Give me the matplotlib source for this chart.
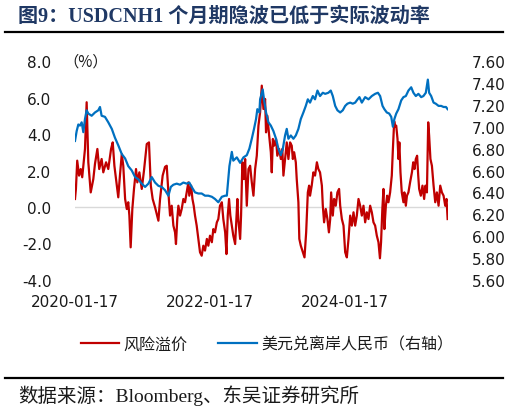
import pandas as pd
import numpy as np
import matplotlib
import matplotlib.pyplot as plt
import matplotlib.dates as mdates
from matplotlib.lines import Line2D
matplotlib.use('Agg')

plt.rcParams['font.family'] = ['DejaVu Sans', 'Noto Sans CJK SC']
plt.rcParams['axes.unicode_minus'] = False

# 风险溢价 (%), left axis
risk_dates = [
    '2020-01-17', '2020-01-22', '2020-01-29', '2020-02-08', '2020-02-17', '2020-02-25',
    '2020-03-06', '2020-03-11', '2020-03-20', '2020-03-29', '2020-04-11', '2020-04-25',
    '2020-05-04', '2020-05-17', '2020-05-27', '2020-06-09', '2020-06-18', '2020-07-03',
    '2020-07-15', '2020-07-30', '2020-08-08', '2020-08-17', '2020-08-30', '2020-09-07',
    '2020-09-16', '2020-09-26', '2020-10-04', '2020-10-14', '2020-10-23', '2020-10-31',
    '2020-11-06', '2020-11-13', '2020-11-22', '2020-12-01', '2020-12-12', '2020-12-19',
    '2020-12-30', '2021-01-12', '2021-01-24', '2021-02-08', '2021-02-20', '2021-03-02',
    '2021-03-12', '2021-03-25', '2021-04-12', '2021-04-21', '2021-05-05', '2021-05-18',
    '2021-05-27', '2021-06-05', '2021-06-14', '2021-06-23', '2021-07-02', '2021-07-11',
    '2021-07-16', '2021-07-23', '2021-07-29', '2021-08-07', '2021-08-16', '2021-08-25',
    '2021-09-03', '2021-09-12', '2021-09-21', '2021-09-26', '2021-10-06', '2021-10-13',
    '2021-10-20', '2021-10-27', '2021-11-05', '2021-11-14', '2021-11-23', '2021-12-02',
    '2021-12-11', '2021-12-20', '2021-12-30', '2022-01-07', '2022-01-16', '2022-01-26',
    '2022-02-03', '2022-02-12', '2022-02-22', '2022-03-02', '2022-03-11', '2022-03-21',
    '2022-03-29', '2022-04-08', '2022-04-15', '2022-04-22', '2022-04-29', '2022-05-06',
    '2022-05-14', '2022-05-22', '2022-06-01', '2022-06-06', '2022-06-13', '2022-06-18',
    '2022-06-28', '2022-07-03', '2022-07-10', '2022-07-18', '2022-07-25', '2022-08-03',
    '2022-08-12', '2022-08-21', '2022-08-30', '2022-09-08', '2022-09-17', '2022-09-26',
    '2022-10-05', '2022-10-14', '2022-10-23', '2022-11-01', '2022-11-10', '2022-11-15',
    '2022-11-22', '2022-12-02', '2022-12-11', '2022-12-16', '2022-12-22', '2022-12-29',
    '2023-01-08', '2023-01-15', '2023-01-25', '2023-02-03', '2023-02-11', '2023-02-17',
    '2023-02-26', '2023-03-07', '2023-03-16', '2023-03-25', '2023-04-03', '2023-04-09',
    '2023-04-16', '2023-04-25', '2023-04-30', '2023-05-09', '2023-05-14', '2023-05-22',
    '2023-06-02', '2023-06-11', '2023-06-20', '2023-06-29', '2023-07-06', '2023-07-11',
    '2023-07-20', '2023-07-29', '2023-08-07', '2023-08-17', '2023-08-25', '2023-09-03',
    '2023-09-13', '2023-09-18', '2023-09-25', '2023-10-04', '2023-10-13', '2023-10-21',
    '2023-10-28', '2023-11-02', '2023-11-11', '2023-11-18', '2023-11-27', '2023-12-06',
    '2023-12-15', '2023-12-21', '2023-12-30', '2024-01-08', '2024-01-17', '2024-01-26',
    '2024-02-04', '2024-02-13', '2024-02-22', '2024-03-02', '2024-03-11', '2024-03-20',
    '2024-03-29', '2024-04-07', '2024-04-16', '2024-04-25', '2024-05-04', '2024-05-13',
    '2024-05-22', '2024-05-31', '2024-06-09', '2024-06-18', '2024-06-27', '2024-07-06',
    '2024-07-15', '2024-07-23', '2024-07-29', '2024-08-05', '2024-08-11', '2024-08-16',
    '2024-08-24', '2024-08-31', '2024-09-07', '2024-09-16', '2024-09-25', '2024-10-01',
    '2024-10-08', '2024-10-13', '2024-10-19', '2024-10-26', '2024-10-31', '2024-11-05',
    '2024-11-11', '2024-11-18', '2024-11-27', '2024-12-02', '2024-12-10', '2024-12-16',
    '2024-12-24', '2025-01-02', '2025-01-12', '2025-01-19', '2025-01-26', '2025-02-02',
    '2025-02-09', '2025-02-15', '2025-02-20', '2025-03-01', '2025-03-10', '2025-03-19',
    '2025-03-26', '2025-04-03', '2025-04-10', '2025-04-15', '2025-04-22', '2025-04-30',
    '2025-05-09', '2025-05-18', '2025-05-27', '2025-06-05', '2025-06-14', '2025-06-23',
    '2025-07-02', '2025-07-11', '2025-07-18', '2025-07-24',
]
risk_premium = [
    0.44, 0.99, 2.54, 1.72, 2.08, 1.63,
    2.63, 3.18, 5.74, 2.45, 0.80, 1.53,
    2.36, 3.18, 2.08, 2.63, 1.90, 2.45,
    2.08, 3.18, 3.54, 2.26, 1.17, 0.53,
    1.72, 2.90, 2.26, 0.44, -0.11, 0.26,
    -0.47, -2.21, -0.11, 0.99, 2.08, 1.35,
    1.90, 0.99, 1.99, 3.45, 3.54, 1.17,
    0.44, -0.02, -0.75, 0.44, 1.72, 2.20,
    2.26, 0.80, -0.47, 0.07, -1.02, -1.39,
    -2.03, -0.66, 0.07, -0.47, -0.11, 0.44,
    0.26, 0.80, 1.35, 0.62, 1.17, 0.44,
    0.07, -0.47, -1.02, -1.75, -2.48, -2.67,
    -2.12, -2.39, -1.75, -2.12, -1.57, -1.93,
    -1.21, -1.39, -0.84, -0.66, 0.07, 0.26,
    -0.66, -1.39, -2.58, -0.47, 0.44, -0.47,
    -1.02, -1.57, -2.03, -1.02, 0.44, -0.66,
    -1.75, -0.47, 2.45, 1.53, 2.63, 0.07,
    2.08, 2.26, 1.35, 0.62, 2.08, 2.81,
    4.46, 5.19, 6.65, 5.37, 5.92, 4.09,
    5.00, 3.91, 3.00, 1.90, 3.73, 3.36,
    3.73, 2.81, 3.18, 2.63, 3.18, 1.72,
    2.63, 3.54, 2.63, 3.54, 3.36, 2.63,
    3.00, 2.45, 1.53, 0.26, -1.75, -2.12,
    -2.48, -2.76, -1.39, 0.80, 1.17, 0.62,
    1.17, 1.90, 1.72, 2.45, 2.08, 1.90,
    1.17, 0.07, -0.84, -0.11, -0.66, -1.39,
    -0.66, 0.80, -0.47, 0.44, 0.07, 0.80,
    0.99, 0.07, -0.66, -1.02, -2.48, -2.76,
    -1.75, -0.47, -1.02, -0.29, -1.02, -0.47,
    0.44, 0.07, -0.47, 0.07, -0.84, -0.29,
    -0.66, 0.07, -0.29, -0.84, -1.02, -1.57,
    -1.93, -2.81, -1.93, -0.11, 0.99, -1.21,
    0.07, 0.62, 0.26, 0.80, 1.72, 3.18,
    4.70, 4.40, 4.46, 3.73, 2.63, 3.54,
    1.90, 0.80, 0.26, 0.80, 0.07, 0.62,
    0.80, 1.35, 1.90, 2.45, 2.08, 2.63,
    2.81, 1.72, 0.99, 0.62, 1.17, 0.44,
    1.17, 0.80, 4.64, 3.91, 2.63, 2.26,
    1.17, 0.26, 0.80, 0.07, 1.17, 0.80,
    0.62, 0.07, 0.44, -0.66,
]

# 美元兑离岸人民币, right axis
fx_dates = [
    '2020-01-17', '2020-01-26', '2020-02-04', '2020-02-13', '2020-02-22', '2020-03-02',
    '2020-03-11', '2020-03-20', '2020-03-29', '2020-04-16', '2020-05-04', '2020-05-22',
    '2020-05-31', '2020-06-09', '2020-06-27', '2020-07-15', '2020-08-03', '2020-08-20',
    '2020-09-07', '2020-09-26', '2020-10-14', '2020-10-31', '2020-11-19', '2020-12-07',
    '2020-12-24', '2021-01-12', '2021-01-30', '2021-02-17', '2021-03-07', '2021-03-25',
    '2021-04-12', '2021-04-30', '2021-05-18', '2021-06-05', '2021-06-18', '2021-07-02',
    '2021-07-20', '2021-08-07', '2021-08-25', '2021-09-12', '2021-09-26', '2021-10-09',
    '2021-10-27', '2021-11-14', '2021-12-02', '2021-12-20', '2022-01-07', '2022-01-26',
    '2022-02-12', '2022-03-02', '2022-03-21', '2022-04-08', '2022-04-17', '2022-05-01',
    '2022-05-14', '2022-05-22', '2022-06-10', '2022-06-28', '2022-07-16', '2022-08-03',
    '2022-08-17', '2022-08-30', '2022-09-11', '2022-09-22', '2022-09-29', '2022-10-10',
    '2022-10-14', '2022-10-28', '2022-11-04', '2022-11-15', '2022-11-28', '2022-12-11',
    '2022-12-25', '2023-01-08', '2023-01-21', '2023-02-03', '2023-02-14', '2023-02-26',
    '2023-03-07', '2023-03-16', '2023-03-29', '2023-04-12', '2023-04-25', '2023-05-09',
    '2023-05-22', '2023-06-05', '2023-06-18', '2023-06-29', '2023-07-11', '2023-07-26',
    '2023-08-07', '2023-08-20', '2023-09-03', '2023-09-18', '2023-10-01', '2023-10-18',
    '2023-10-31', '2023-11-11', '2023-11-24', '2023-12-06', '2023-12-21', '2024-01-04',
    '2024-01-17', '2024-01-29', '2024-02-13', '2024-02-27', '2024-03-11', '2024-03-24',
    '2024-04-03', '2024-04-16', '2024-05-04', '2024-05-22', '2024-06-09', '2024-06-27',
    '2024-07-12', '2024-07-24', '2024-08-06', '2024-08-16', '2024-08-29', '2024-09-11',
    '2024-09-22', '2024-10-01', '2024-10-09', '2024-10-19', '2024-10-31', '2024-11-15',
    '2024-11-27', '2024-12-10', '2024-12-24', '2025-01-08', '2025-01-20', '2025-02-02',
    '2025-02-16', '2025-03-03', '2025-03-15', '2025-03-28', '2025-04-08', '2025-04-15',
    '2025-04-26', '2025-05-09', '2025-05-21', '2025-06-05', '2025-06-19', '2025-07-02',
    '2025-07-15', '2025-07-24',
]
usdcnh = [
    6.87, 6.96, 7.02, 7.01, 7.04, 6.95,
    7.07, 7.15, 7.12, 7.10, 7.13, 7.15,
    7.18, 7.10, 7.09, 7.04, 6.98, 6.90,
    6.83, 6.75, 6.71, 6.64, 6.60, 6.54,
    6.52, 6.48, 6.45, 6.48, 6.54, 6.49,
    6.46, 6.45, 6.42, 6.37, 6.45, 6.47,
    6.48, 6.47, 6.49, 6.48, 6.49, 6.45,
    6.40, 6.39, 6.39, 6.37, 6.37, 6.36,
    6.34, 6.31, 6.36, 6.37, 6.37, 6.64,
    6.77, 6.69, 6.72, 6.67, 6.72, 6.74,
    6.80, 6.89, 6.98, 7.07, 7.16, 7.13,
    7.25, 7.34, 7.25, 7.13, 7.04, 7.01,
    6.96, 6.89, 6.80, 6.74, 6.80, 6.92,
    6.98, 6.89, 6.92, 6.89, 6.92, 6.98,
    7.07, 7.13, 7.19, 7.25, 7.22, 7.28,
    7.25, 7.33, 7.28, 7.31, 7.30, 7.31,
    7.33, 7.28, 7.19, 7.15, 7.13, 7.15,
    7.19, 7.21, 7.22, 7.21, 7.22, 7.25,
    7.27, 7.22, 7.27, 7.25, 7.28, 7.30,
    7.31, 7.28, 7.19, 7.16, 7.13, 7.12,
    7.09, 7.00, 7.07, 7.12, 7.16, 7.24,
    7.27, 7.28, 7.33, 7.36, 7.31, 7.28,
    7.30, 7.27, 7.28, 7.31, 7.43, 7.31,
    7.28, 7.22, 7.21, 7.19, 7.19, 7.18,
    7.18, 7.16,
]

x_ticks = ['2020-01-17', '2022-01-17', '2024-01-17']
left_ticks = [-4.0, -2.0, 0.0, 2.0, 4.0, 6.0, 8.0]
right_ticks = [5.6, 5.8, 6.0, 6.2, 6.4, 6.6, 6.8, 7.0, 7.2, 7.4, 7.6]

title = '图9：USDCNH1 个月期隐波已低于实际波动率'
source = '数据来源：Bloomberg、东吴证券研究所'
red = '#C00000'
blue = '#0070C0'
text_color = '#1a1a1a'

fig = plt.figure(figsize=(5.10, 4.14), dpi=100)
ax = fig.add_axes([75 / 510, 1 - 281 / 414, 373 / 510, 219 / 414])
ax2 = ax.twinx()

rd = pd.to_datetime(risk_dates)
fd = pd.to_datetime(fx_dates)

ax.axhline(0, color='#D9D9D9', lw=1.0, zorder=1)
ax.plot(rd, risk_premium, color=red, lw=1.6, zorder=2)
ax2.plot(fd, usdcnh, color=blue, lw=1.6)

ax.set_xlim(pd.Timestamp('2020-01-17'), pd.Timestamp('2025-07-26'))
ax.set_ylim(-4, 8)
ax2.set_ylim(5.6, 7.6)
ax.set_yticks(left_ticks)
ax.set_yticklabels([f'{v:.1f}' for v in left_ticks])
ax2.set_yticks(right_ticks)
ax2.set_yticklabels([f'{v:.2f}' for v in right_ticks])
ax.set_xticks(pd.to_datetime(x_ticks))
ax.set_xticklabels(x_ticks)

for a in (ax, ax2):
    for s in a.spines.values():
        s.set_visible(False)
    a.tick_params(length=0, labelsize=11, colors=text_color)
ax.tick_params(axis='y', pad=17)
ax2.tick_params(axis='y', pad=17)
ax.tick_params(axis='x', pad=10)

fig.text(63 / 510, 1 - 62 / 414, '（%）', fontsize=11, color=text_color,
         family=['Noto Sans CJK SC'], ha='left', va='center')

# title and rules
fig.text(18 / 510, 1 - 17 / 414, title, fontsize=14.5, fontweight='bold', color='#1F3864',
         family=['Liberation Serif', 'Noto Sans CJK SC'], ha='left', va='center')
fig.add_artist(Line2D([5 / 510, 503 / 510], [1 - 33 / 414, 1 - 33 / 414], color='black', lw=1.6))
fig.add_artist(Line2D([5 / 510, 503 / 510], [1 - 379 / 414, 1 - 379 / 414], color='black', lw=1.6))
fig.text(18 / 510, 1 - 396 / 414, source, fontsize=14, color=text_color,
         family=['Liberation Serif', 'Noto Sans CJK SC'], ha='left', va='center')

handles = [Line2D([], [], color=red, lw=1.6), Line2D([], [], color=blue, lw=1.6)]
fig.legend(handles, ['风险溢价', '美元兑离岸人民币（右轴）'], loc='center',
           bbox_to_anchor=(267 / 510, 1 - 345 / 414), ncol=2, frameon=False,
           prop={'family': ['Noto Sans CJK SC'], 'size': 11.5},
           handlelength=2.4, handletextpad=0.3, columnspacing=1.9, labelcolor=text_color)

fig.savefig('out.png', dpi=100)
plt.close()
